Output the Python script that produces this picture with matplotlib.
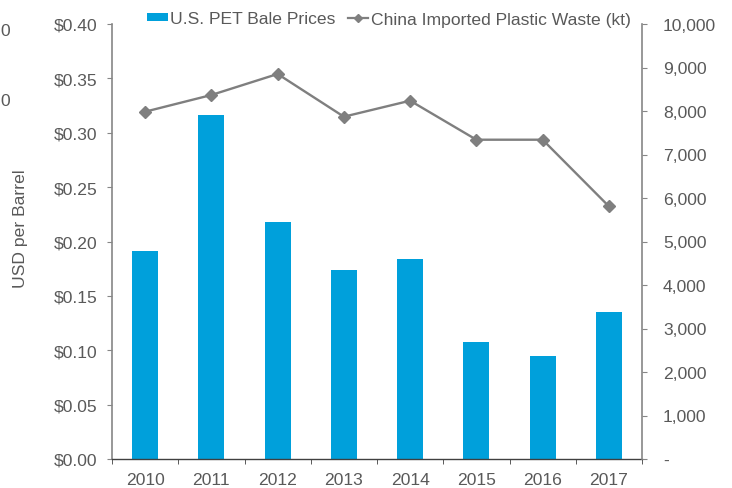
import matplotlib
matplotlib.use("Agg")
import matplotlib.pyplot as plt
from matplotlib.ticker import FuncFormatter, MultipleLocator
from matplotlib.lines import Line2D
from matplotlib.patches import Patch

years = ["2010", "2011", "2012", "2013", "2014", "2015", "2016", "2017"]
pet_prices = [0.191, 0.316, 0.218, 0.174, 0.184, 0.108, 0.095, 0.135]
china_imports_kt = [7984, 8368, 8851, 7869, 8237, 7340, 7340, 5809]

BAR_COLOR = "#00A0DB"
LINE_COLOR = "#7F7F7F"
TEXT_COLOR = "#595959"
SPINE_COLOR = "#868686"
FS = 12.6

plt.rcParams["font.family"] = ["Liberation Sans", "DejaVu Sans"]
plt.rcParams["font.size"] = FS

fig = plt.figure(figsize=(7.32, 4.89), dpi=100)
ax = fig.add_axes([112 / 732, 29 / 489, 530 / 732, 435 / 489])
ax2 = ax.twinx()

x = list(range(len(years)))
ax.bar(x, pet_prices, width=0.39, color=BAR_COLOR, zorder=2)
ax2.plot(x, china_imports_kt, color=LINE_COLOR, lw=1.7, marker="D",
         markersize=6.5, zorder=3)

ax.set_xlim(-0.5, len(years) - 0.5)
ax.set_ylim(0, 0.40)
ax2.set_ylim(0, 10000)

ax.yaxis.set_major_locator(MultipleLocator(0.05))
ax.yaxis.set_major_formatter(FuncFormatter(lambda v, p: f"${v:.2f}"))
ax2.yaxis.set_major_locator(MultipleLocator(1000))
ax2.yaxis.set_major_formatter(
    FuncFormatter(lambda v, p: "-" if abs(v) < 1e-9 else f"{v:,.0f}"))

# category labels centred, tick marks on the category boundaries
ax.set_xticks(x)
ax.set_xticklabels(years)
ax.tick_params(axis="x", which="major", length=0, pad=9.5, labelsize=FS,
               colors=TEXT_COLOR)
ax.set_xticks([i - 0.5 for i in range(len(years) + 1)], minor=True)
ax.tick_params(axis="x", which="minor", length=3.6, direction="out",
               color="#404040")

ax.tick_params(axis="y", length=3.6, direction="out", color=SPINE_COLOR,
               labelsize=FS, labelcolor=TEXT_COLOR, pad=7)
ax2.tick_params(axis="y", length=3.6, direction="out", color=SPINE_COLOR,
                labelsize=FS, labelcolor=TEXT_COLOR, pad=11.5)

for a in (ax, ax2):
    a.spines["top"].set_visible(False)
ax.spines["left"].set_color(SPINE_COLOR)
ax.spines["left"].set_linewidth(1.2)
ax2.spines["right"].set_color(SPINE_COLOR)
ax2.spines["right"].set_linewidth(1.2)
ax.spines["bottom"].set_color("#404040")
ax.spines["bottom"].set_linewidth(1.0)
ax2.spines["left"].set_visible(False)
ax2.spines["bottom"].set_visible(False)
ax.spines["right"].set_visible(False)

ax.set_ylabel("USD per Barrel", color=TEXT_COLOR, fontsize=FS)
ax.yaxis.set_label_coords(-0.158, 0.531)

handles = [
    Patch(facecolor=BAR_COLOR, edgecolor="none"),
    Line2D([0], [0], color=LINE_COLOR, lw=1.6, marker="D", markersize=4.5),
]
leg = fig.legend(handles, ["U.S. PET Bale Prices",
                           "China Imported Plastic Waste (kt)"],
                 loc="center", bbox_to_anchor=(389 / 732, 1 - 20 / 489),
                 ncol=2, frameon=False, fontsize=FS, handlelength=1.15,
                 handletextpad=0.15, columnspacing=0.7, handleheight=0.35,
                 borderaxespad=0, borderpad=0, labelcolor=TEXT_COLOR)

# partial labels at the left edge
fig.text(0.0, 1 - 31 / 489, "0", color=TEXT_COLOR, fontsize=FS,
         ha="left", va="center")
fig.text(0.0, 1 - 102 / 489, "0", color=TEXT_COLOR, fontsize=FS,
         ha="left", va="center")

fig.savefig("out.png", dpi=100)
